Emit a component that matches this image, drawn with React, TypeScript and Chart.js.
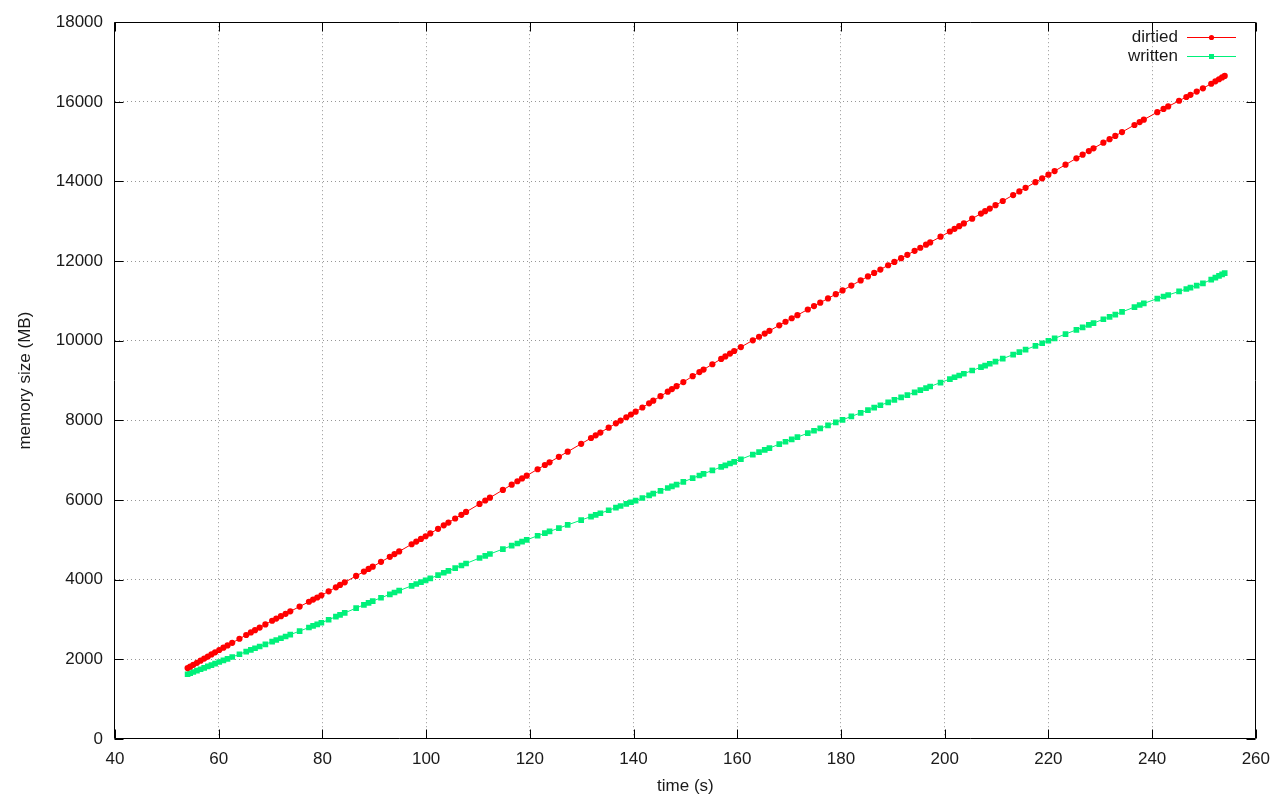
import React, { useEffect, useRef } from 'react';
import { Chart, registerables } from 'chart.js';

Chart.register(...registerables);

// time (s)
const times = [
  54.0, 54.5, 55.1, 55.8, 56.5, 57.2, 57.9, 58.6, 59.3, 60.1,
  60.9, 61.7, 62.6, 64.0, 65.3, 66.2, 67.0, 67.9, 69.0, 70.3,
  71.1, 72.0, 72.9, 73.8, 75.6, 77.4, 78.2, 79.0, 79.8, 81.2,
  82.6, 83.4, 84.3, 86.5, 88.0, 88.9, 89.7, 91.3, 93.0, 93.9,
  94.8, 97.2, 98.1, 99.0, 99.9, 100.8, 102.3, 103.4, 104.3, 105.6,
  106.8, 107.7, 110.3, 111.4, 112.3, 114.8, 116.5, 117.6, 118.5, 119.4,
  121.5, 122.9, 123.8, 125.6, 127.3, 129.9, 131.8, 132.7, 133.6, 135.2,
  136.6, 137.5, 138.6, 139.5, 140.4, 141.7, 143.0, 143.8, 145.2, 146.6,
  147.4, 148.3, 149.6, 151.4, 152.7, 153.5, 155.2, 156.9, 157.7, 158.6,
  159.4, 160.7, 163.0, 164.2, 165.3, 166.2, 168.1, 169.3, 170.5, 171.6,
  173.6, 174.8, 176.0, 177.5, 179.0, 180.3, 182.0, 183.8, 185.2, 186.4,
  187.6, 189.1, 190.3, 191.6, 192.8, 194.2, 195.3, 196.4, 197.2, 199.2,
  201.0, 201.9, 202.8, 203.7, 205.3, 207.0, 207.8, 208.7, 209.8, 211.2,
  213.2, 214.4, 215.6, 217.5, 218.8, 220.0, 221.2, 223.3, 225.4, 226.6,
  227.8, 228.7, 230.6, 231.8, 232.9, 234.2, 236.6, 237.6, 238.4, 241.0,
  242.2, 243.1, 245.2, 246.6, 247.4, 248.6, 249.8, 251.4, 252.2, 252.9,
  253.5, 254.0,
];

// memory size (MB), dirtied
const dirtied = [
  1780, 1817, 1862, 1914, 1967, 2019, 2071, 2124, 2176, 2235,
  2293, 2351, 2416, 2517, 2611, 2676, 2734, 2798, 2878, 2970,
  3024, 3084, 3144, 3205, 3325, 3446, 3500, 3553, 3607, 3708,
  3810, 3868, 3934, 4095, 4204, 4270, 4328, 4448, 4575, 4643,
  4710, 4890, 4958, 5025, 5092, 5162, 5279, 5365, 5435, 5537,
  5630, 5701, 5903, 5989, 6059, 6254, 6387, 6473, 6543, 6613,
  6774, 6880, 6949, 7086, 7215, 7412, 7558, 7627, 7696, 7819,
  7926, 7995, 8080, 8149, 8219, 8325, 8430, 8495, 8608, 8721,
  8786, 8859, 8964, 9111, 9213, 9277, 9411, 9545, 9608, 9679,
  9743, 9842, 10012, 10101, 10182, 10249, 10389, 10478, 10566, 10644,
  10786, 10871, 10957, 11063, 11170, 11264, 11386, 11516, 11616, 11703,
  11789, 11897, 11981, 12074, 12159, 12258, 12336, 12414, 12471, 12613,
  12744, 12811, 12879, 12946, 13066, 13194, 13254, 13321, 13404, 13510,
  13660, 13750, 13840, 13983, 14080, 14171, 14262, 14422, 14582, 14673,
  14764, 14833, 14974, 15063, 15145, 15241, 15419, 15493, 15552, 15741,
  15823, 15884, 16027, 16122, 16177, 16258, 16340, 16455, 16515, 16567,
  16612, 16650,
];

// memory size (MB), written
const written = [
  1627, 1652, 1682, 1717, 1752, 1787, 1822, 1857, 1892, 1933,
  1973, 2013, 2058, 2128, 2193, 2238, 2278, 2323, 2378, 2445,
  2485, 2530, 2575, 2620, 2710, 2800, 2840, 2880, 2920, 2995,
  3072, 3116, 3166, 3288, 3370, 3420, 3464, 3546, 3633, 3679,
  3725, 3847, 3893, 3939, 3985, 4033, 4114, 4174, 4222, 4292,
  4357, 4406, 4545, 4600, 4645, 4770, 4855, 4910, 4955, 5000,
  5104, 5169, 5212, 5296, 5376, 5498, 5585, 5627, 5669, 5744,
  5810, 5852, 5904, 5946, 5986, 6053, 6119, 6160, 6231, 6303,
  6343, 6389, 6456, 6551, 6618, 6659, 6745, 6832, 6873, 6919,
  6959, 7026, 7143, 7204, 7260, 7306, 7403, 7464, 7525, 7580,
  7680, 7740, 7800, 7875, 7950, 8015, 8100, 8190, 8260, 8320,
  8380, 8455, 8515, 8578, 8637, 8706, 8760, 8813, 8853, 8951,
  9038, 9083, 9128, 9173, 9253, 9338, 9378, 9423, 9478, 9551,
  9653, 9714, 9776, 9873, 9939, 10000, 10061, 10168, 10275, 10337,
  10398, 10444, 10541, 10602, 10658, 10724, 10847, 10898, 10938, 11059,
  11111, 11149, 11240, 11300, 11334, 11386, 11441, 11537, 11587, 11630,
  11669, 11700,
];

const seriesNames = ['dirtied', 'written'];
const seriesColors = ['#ff0000', '#00f07a'];
const xMin = 40;
const xMax = 260;
const xStep = 20;
const yMin = 0;
const yMax = 18000;
const yStep = 2000;
const xTitle = 'time (s)';
const yTitle = 'memory size (MB)';

const FONT = "'Liberation Sans', Arial, sans-serif";

const framePlugin = {
  id: 'gnuplotFrame',
  afterDatasetsDraw(chart: any) {
    const { ctx, chartArea } = chart;
    const xs = chart.scales.x;
    const ys = chart.scales.y;
    const L = Math.round(chartArea.left) - 0.5;
    const R = Math.round(chartArea.right) - 0.5;
    const T = Math.round(chartArea.top) + 0.5;
    const B = Math.round(chartArea.bottom) - 0.5;
    ctx.save();
    ctx.strokeStyle = '#000';
    ctx.lineWidth = 1;
    ctx.setLineDash([]);
    ctx.beginPath();
    ctx.rect(L, T, R - L, B - T);
    ctx.stroke();
    const tl = 9;
    ctx.beginPath();
    xs.ticks.forEach((t: any) => {
      const px = Math.round(xs.getPixelForValue(t.value)) + 0.5;
      ctx.moveTo(px, B);
      ctx.lineTo(px, B - tl);
      ctx.moveTo(px, T);
      ctx.lineTo(px, T + tl);
    });
    ys.ticks.forEach((t: any) => {
      const py = Math.round(ys.getPixelForValue(t.value)) + 0.5;
      ctx.moveTo(L, py);
      ctx.lineTo(L + tl, py);
      ctx.moveTo(R, py);
      ctx.lineTo(R - tl, py);
    });
    ctx.stroke();

    // legend (gnuplot style, inside top-right)
    ctx.font = `17px ${FONT}`;
    ctx.textAlign = 'right';
    ctx.textBaseline = 'middle';
    chart.data.datasets.forEach((ds: any, i: number) => {
      const y = 37 + i * 19 + 0.5;
      ctx.fillStyle = '#1a1a1a';
      ctx.fillText(ds.label, 1178, y);
      ctx.strokeStyle = ds.borderColor;
      ctx.lineWidth = 1;
      ctx.beginPath();
      ctx.moveTo(1187, y);
      ctx.lineTo(1236, y);
      ctx.stroke();
      ctx.fillStyle = ds.pointBackgroundColor;
      if (ds.pointStyle === 'rect') {
        ctx.fillRect(1211.5 - 2.5, y - 2.5, 5, 5);
      } else {
        ctx.beginPath();
        ctx.arc(1211.5, y, 2.6, 0, Math.PI * 2);
        ctx.fill();
      }
    });
    ctx.restore();
  },
};

export default function App() {
  const ref = useRef<HTMLCanvasElement | null>(null);
  useEffect(() => {
    if (!ref.current) return;
    const mk = (vals: number[]) => times.map((t, i) => ({ x: t, y: vals[i] }));
    const chart = new Chart(ref.current, {
      type: 'line',
      data: {
        datasets: [
          {
            label: seriesNames[0],
            data: mk(dirtied),
            borderColor: seriesColors[0],
            backgroundColor: seriesColors[0],
            pointBackgroundColor: seriesColors[0],
            pointBorderWidth: 0,
            pointRadius: 3.1,
            pointStyle: 'circle',
            borderWidth: 1,
            tension: 0,
            fill: false,
          },
          {
            label: seriesNames[1],
            data: mk(written),
            borderColor: seriesColors[1],
            backgroundColor: seriesColors[1],
            pointBackgroundColor: seriesColors[1],
            pointBorderWidth: 0,
            pointRadius: 4,
            pointStyle: 'rect',
            borderWidth: 1,
            tension: 0,
            fill: false,
          },
        ],
      },
      options: {
        animation: false,
        responsive: true,
        maintainAspectRatio: false,
        layout: { padding: { top: 20, right: 24, left: 0, bottom: 0 } },
        plugins: { legend: { display: false }, tooltip: { enabled: false } },
        elements: { point: { hoverRadius: 3 } },
        scales: {
          x: {
            type: 'linear',
            min: xMin,
            max: xMax,
            afterFit: (s: any) => { s.height = 61; },
            ticks: {
              stepSize: xStep,
              color: '#1a1a1a',
              padding: 10,
              maxRotation: 0,
              font: { family: FONT, size: 17 },
              callback: (v: any) => String(v),
            },
            grid: {
              drawTicks: false,
              lineWidth: 1,
              color: (c: any) =>
                c.tick && (c.tick.value === xMin || c.tick.value === xMax) ? 'rgba(0,0,0,0)' : '#969696',
            },
            border: { display: false, dash: [1, 3] },
            title: {
              display: true,
              text: xTitle,
              color: '#1a1a1a',
              font: { family: FONT, size: 17 },
              padding: { top: 0, bottom: 3 },
            },
          },
          y: {
            type: 'linear',
            min: yMin,
            max: yMax,
            afterFit: (s: any) => { s.width = 115; },
            ticks: {
              stepSize: yStep,
              color: '#1a1a1a',
              padding: 12,
              font: { family: FONT, size: 17 },
              callback: (v: any) => String(v),
            },
            grid: {
              drawTicks: false,
              lineWidth: 1,
              color: (c: any) =>
                c.tick && (c.tick.value === yMin || c.tick.value === yMax) ? 'rgba(0,0,0,0)' : '#969696',
            },
            border: { display: false, dash: [1, 3] },
            title: {
              display: true,
              text: yTitle,
              color: '#1a1a1a',
              font: { family: FONT, size: 17 },
              padding: { top: 15, bottom: 0 },
            },
          },
        },
      },
      plugins: [framePlugin],
    });
    return () => chart.destroy();
  }, []);
  return (
    <div style={{ position: 'absolute', left: 0, top: 0, width: 1280, height: 800, background: '#fff' }}>
      <canvas ref={ref} />
    </div>
  );
}
